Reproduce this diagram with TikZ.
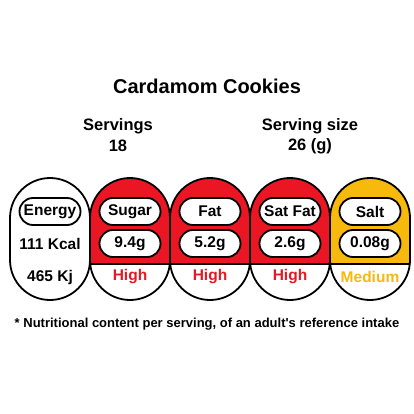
\documentclass[tikz,border=0pt]{standalone}
\usepackage{fontspec}
\setmainfont{Liberation Sans}
\usetikzlibrary{positioning}
\definecolor{hired}{RGB}{235,22,36}
\definecolor{medamber}{RGB}{247,185,12}
\tikzset{font=\bfseries\fontsize{15.5}{17}\selectfont}
\tikzset{pill/.style={draw,line width=1.8pt,rounded corners=13.5pt,minimum width=61pt,minimum height=27pt,fill=white,inner sep=0pt}}
\tikzset{capsule/.style={line width=1.8pt,rounded corners=40pt}}

\begin{document}
\begin{tikzpicture}[x=1pt,y=-1pt]
  \useasboundingbox (0,0) rectangle (414,414);
  \node[font=\bfseries\fontsize{20}{22}\selectfont] (title) at (207,86) {Cardamom Cookies};
  \node[font=\bfseries\fontsize{16.5}{18}\selectfont] (servhead) at (118,126) {Servings};
  \node[font=\bfseries\fontsize{16.5}{18}\selectfont] (servnum) at (118,146) {18};
  \node[font=\bfseries\fontsize{16.5}{18}\selectfont] (sizehead) at (310,126) {Serving size};
  \node[font=\bfseries\fontsize{16.5}{18}\selectfont] (sizenum) at (310,146) {26 (g)};

  % energy
  \draw[capsule] (10,178) rectangle (90,300);
  \node[pill] (energy) at (50,211.5) {Energy};
  \node (kcal) at (50,244) {111 Kcal};
  \node (kj) at (50,277) {465 Kj};

  \foreach \cx/\nm/\lab/\amt/\lev/\col in {130/sugar/Sugar/9.4g/High/hired,
      210/fat/Fat/5.2g/High/hired, 290/satfat/Sat Fat/2.6g/High/hired,
      370/salt/Salt/0.08g/Medium/medamber}{
    \begin{scope}
      \clip[rounded corners=40pt] (\cx-40,178) rectangle (\cx+40,300);
      \fill[\col] (\cx-40,178) rectangle (\cx+40,264);
    \end{scope}
    \draw[line width=1.8pt] (\cx-40,264) -- (\cx+40,264);
    \draw[capsule] (\cx-40,178) rectangle (\cx+40,300);
    \node[pill] (\nm) at (\cx,211.5) {\lab};
    \node[pill] (\nm-amt) at (\cx,243.5) {\amt};
    \node[text=\col] (\nm-lev) at (\cx,277) {\lev};
  }

  \node[font=\bfseries\fontsize{13}{15}\selectfont] (note) at (207,324)
    {* Nutritional content per serving, of an adult\textquotesingle s reference intake};
\end{tikzpicture}
\end{document}
